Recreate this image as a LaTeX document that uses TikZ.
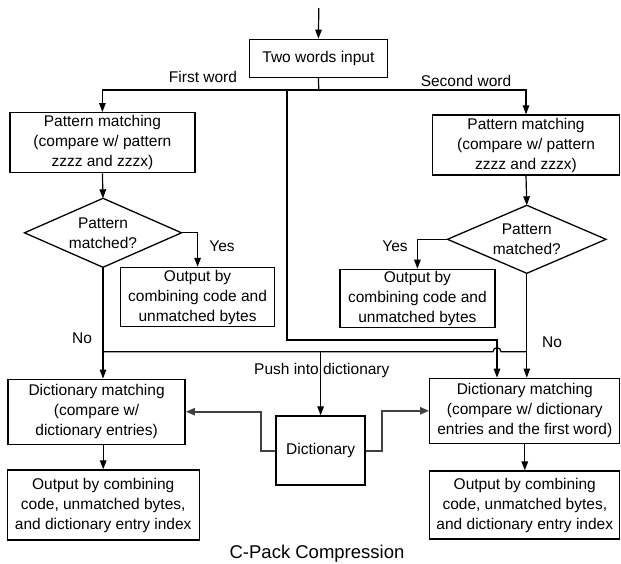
\documentclass[tikz,border=0pt]{standalone}
\usepackage{fontspec}
\setmainfont{Liberation Sans}
\usetikzlibrary{arrows.meta}
\begin{document}
\begin{tikzpicture}[x=1pt,y=-1pt,
  every node/.style={font=\fontsize{15.5}{20}\selectfont},
  box/.style={draw,line width=1.3pt,inner sep=0pt,align=center},
  dtext/.style={inner sep=0pt,align=center},
  dline/.style={line width=1.3pt,line join=miter},
  lbl/.style={inner sep=1pt},
  conn/.style={line width=1.2pt,-{Triangle[length=9pt,width=6.5pt]}},
  plain/.style={line width=1.2pt},
  dconn/.style={line width=2pt,draw=black!75,-{Triangle[length=9pt,width=7pt]}}]
\useasboundingbox (0,0) rectangle (621,563);

\node[box,minimum width=138pt,minimum height=38pt] (in) at (318.4,58.3) {Two words input};
\node[box,minimum width=185pt,minimum height=60pt] (pm1) at (102.4,142.7) {Pattern matching\\(compare w/ pattern\\zzzz and zzzx)};
\node[box,minimum width=187pt,minimum height=60pt] (pm2) at (526,145) {Pattern matching\\(compare w/ pattern\\zzzz and zzzx)};

\node[dtext] (d1) at (103,232.8) {Pattern\\matched?};
\coordinate (d1n) at (103,198.3);
\coordinate (d1s) at (103,267.3);
\coordinate (d1e) at (181.5,232.8);
\coordinate (d1w) at (24.5,232.8);
\draw[dline] (d1n) -- (d1e) -- (d1s) -- (d1w) -- cycle;

\node[dtext] (d2) at (526.8,239.3) {Pattern\\matched?};
\coordinate (d2n) at (526.8,205.3);
\coordinate (d2s) at (526.8,273.3);
\coordinate (d2e) at (606,239.3);
\coordinate (d2w) at (447.5,239.3);
\draw[dline] (d2n) -- (d2e) -- (d2s) -- (d2w) -- cycle;

\node[box,minimum width=154pt,minimum height=59pt] (o1) at (197.6,297) {Output by\\combining code and\\unmatched bytes};
\node[box,minimum width=155pt,minimum height=58pt] (o2) at (417.4,298.3) {Output by\\combining code and\\unmatched bytes};
\node[box,minimum width=177pt,minimum height=65pt] (dm1) at (96.6,411.7) {Dictionary matching\\(compare w/\\dictionary entries)};
\node[box,minimum width=190pt,minimum height=65pt] (dm2) at (524.8,410.8) {Dictionary matching\\(compare w/ dictionary\\entries and the first word)};
\node[box,minimum width=89pt,minimum height=69pt] (dict) at (320.6,450.5) {Dictionary};
\node[box,minimum width=192pt,minimum height=70pt] (out1) at (103.2,505) {Output by combining\\code, unmatched bytes,\\and dictionary entry index};
\node[box,minimum width=190pt,minimum height=68pt] (out2) at (524.8,505) {Output by combining\\code, unmatched bytes,\\and dictionary entry index};

\node[lbl] (fw) at (203,76.7) {First word};
\node[lbl] (sw) at (466,81) {Second word};
\node[lbl] (y1) at (222,246) {Yes};
\node[lbl] (y2) at (395,246) {Yes};
\node[lbl] (n1) at (82,338) {No};
\node[lbl] (n2) at (552,342) {No};
\node[lbl] (push) at (321.8,370) {Push into dictionary};
\node[lbl,font=\fontsize{18.5}{22}\selectfont] (cap) at (317,553.3) {C-Pack Compression};

\coordinate (top) at (318.8,8);
\coordinate (br) at (318.8,90);
\coordinate (br2) at (287,90);
\coordinate (k1) at (287,340);
\coordinate (k2) at (497,340);
\coordinate (hl) at (103,351.7);
\coordinate (hj) at (320.6,351.7);
\coordinate (ha) at (493,351.7);
\coordinate (hr) at (526.8,351.7);

\draw[conn] (top) -- (in.north);
\draw[plain] (in.south) -- (br);
\draw[conn] (br) -| (pm1.north);
\draw[conn] (br) -| (pm2.north);
\draw[conn] (pm1.south) -- (d1n);
\draw[conn] (pm2.south) -- (d2n);
\draw[conn] (d1e) -| (o1.north);
\draw[conn] (d2w) -| (o2.north);
\draw[conn] (d1s) -- (d1s |- dm1.north);
\draw[conn] (d2s) -- (d2s |- dm2.north);
\draw[plain] (hl) -- (ha) arc[start angle=180,end angle=0,radius=4pt] -- (hr);
\draw[conn] (br2) -- (k1) -- (k2) -- (k2 |- dm2.north);
\draw[conn] (hj) -- (dict.north);
\draw[dconn] (dict.west) -- ++(-14.6,0) |- (dm1.east);
\draw[dconn] (dict.east) -- ++(16,0) |- (dm2.west);
\draw[conn] (out1.north |- dm1.south) -- (out1.north);
\draw[conn] (out2.north |- dm2.south) -- (out2.north);
\end{tikzpicture}
\end{document}
